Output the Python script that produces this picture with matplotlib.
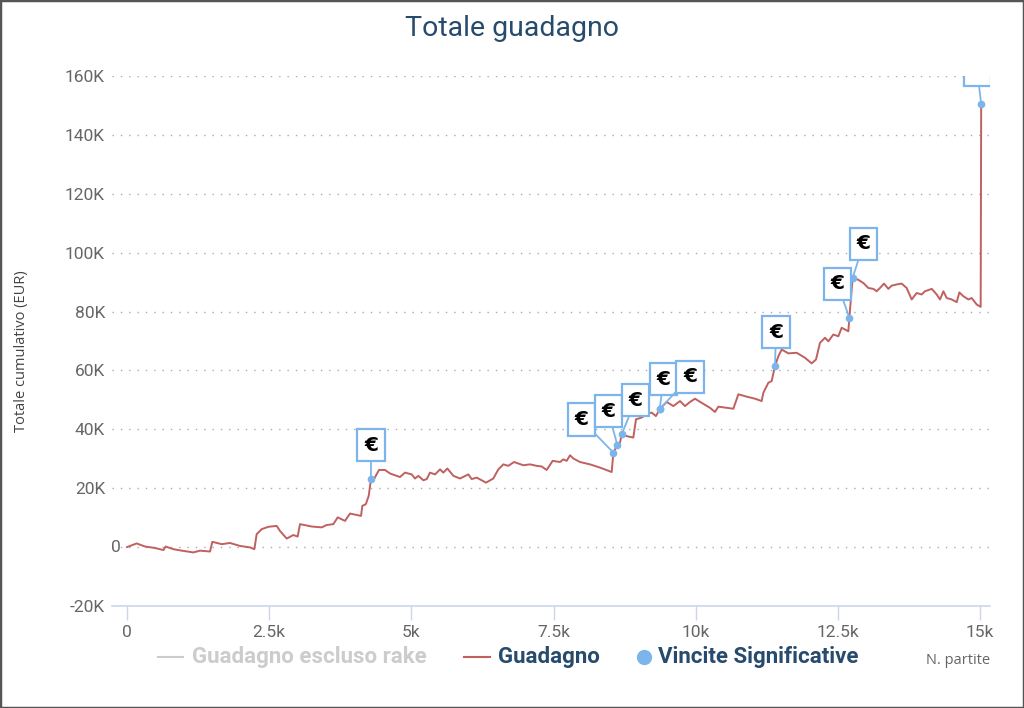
import matplotlib
matplotlib.use('Agg')
import matplotlib.pyplot as plt
from matplotlib.lines import Line2D
from matplotlib.patches import Rectangle
from matplotlib.ticker import FuncFormatter

# ── data (x = games played, y = cumulative profit in K EUR) ──
games = [0, 170, 316, 492, 640, 680, 815, 962, 1166, 1284, 1460, 1500, 1665, 1811,
         1987, 2163, 2239, 2280, 2368, 2485, 2632, 2690, 2808, 2924, 3001, 3042,
         3247, 3423, 3511, 3628, 3705, 3833, 3921, 4115, 4138, 4200, 4250, 4290,
         4349, 4431, 4537, 4625, 4800, 4888, 5006, 5064, 5123, 5211, 5270, 5328,
         5416, 5504, 5562, 5633, 5739, 5856, 6002, 6061, 6149, 6313, 6441, 6529,
         6617, 6705, 6805, 6969, 7086, 7203, 7291, 7379, 7485, 7614, 7672, 7731,
         7790, 7848, 7966, 8142, 8317, 8523, 8552, 8622, 8669, 8698, 8786, 8903,
         8950, 9049, 9137, 9225, 9300, 9372, 9490, 9607, 9724, 9812, 9900, 9988,
         10105, 10252, 10339, 10398, 10545, 10662, 10750, 10897, 11043, 11160,
         11189, 11277, 11336, 11394, 11453, 11512, 11629, 11775, 11922, 12039,
         12115, 12186, 12274, 12333, 12420, 12508, 12567, 12625, 12684, 12702,
         12760, 12858, 12948, 13036, 13123, 13182, 13240, 13311, 13387, 13446,
         13534, 13622, 13710, 13798, 13885, 13974, 14032, 14150, 14238, 14296,
         14355, 14414, 14502, 14590, 14636, 14707, 14795, 14853, 14941, 15011, 15020]
profit_k = [0, 1.25, 0.2, -0.3, -1.0, 0.2, -0.7, -1.2, -1.8, -1.2, -1.5, 1.8, 1.0, 1.4,
            0.4, -0.1, -0.7, 4.4, 6.1, 6.9, 7.2, 5.5, 2.9, 4.1, 3.6, 7.8,
            7.0, 6.7, 7.5, 7.8, 10.1, 8.9, 11.4, 10.6, 14.0, 14.6, 17.4, 23.1,
            23.3, 26.2, 26.2, 25.0, 23.8, 25.3, 24.7, 23.3, 24.2, 22.7, 23.1, 25.3,
            24.7, 26.4, 25.3, 26.7, 24.2, 23.3, 24.7, 23.1, 23.6, 21.9, 23.3, 26.4,
            28.1, 27.6, 28.9, 27.8, 28.1, 27.6, 27.4, 26.2, 29.3, 28.9, 29.8, 29.3,
            31.2, 30.1, 28.9, 28.1, 27.0, 25.5, 32.1, 34.6, 35.5, 38.3, 37.7, 37.2,
            43.4, 44.0, 45.1, 45.7, 44.5, 47.0, 49.3, 47.9, 49.6, 47.9, 49.3, 50.4,
            49.0, 47.3, 45.9, 47.7, 47.3, 47.0, 51.9, 51.1, 50.4, 49.6,
            52.4, 55.8, 56.4, 61.5, 64.8, 67.1, 65.8, 66.0, 64.3, 62.4,
            63.7, 69.4, 71.1, 69.9, 72.2, 71.6, 74.5, 73.9, 73.3, 77.9,
            91.5, 90.8, 89.7, 88.0, 87.7, 86.9, 88.0, 89.5, 87.7, 88.8,
            89.2, 89.5, 88.0, 84.1, 86.3, 85.8, 86.9, 87.7, 85.8, 84.1,
            86.9, 84.6, 84.1, 83.2, 86.5, 85.2, 84.1, 84.6, 82.4, 81.6, 150.5]

# significant wins (flags)
win_games = [4290, 8552, 8622, 8698, 9365, 9372, 11394, 12702, 12760, 15020]
win_k = [23.1, 32.1, 34.6, 38.3, 46.8, 47.0, 61.5, 77.9, 91.5, 150.5]

# flag box offsets from the point, in pixels (layout only)
flag_dx = [0, -32, -9, 14, 4, 30, 1, -12, 11, -4]
flag_dy = [34, 33, 34, 34, 30, 32, 34, 34, 34, 34]

x_ticks = [0, 2500, 5000, 7500, 10000, 12500, 15000]
x_labels = ['0', '2.5k', '5k', '7.5k', '10k', '12.5k', '15k']
y_ticks = list(range(-20000, 160001, 20000))

plt.rcParams['font.family'] = ['Roboto', 'DejaVu Sans']

LINE_RED = '#c0605f'
FLAG_BLUE = '#7cb5ec'
TITLE_BLUE = '#274b6d'
GREY_TXT = '#666666'

fig = plt.figure(figsize=(10.24, 7.08), dpi=100)
ax = fig.add_axes([112 / 1024, 102 / 708, 878 / 1024, 530 / 708])

ax.plot(games, [v * 1000 for v in profit_k], color=LINE_RED, lw=1.4, zorder=3)
ax.plot(win_games, [v * 1000 for v in win_k], 'o', ms=4.5, color=FLAG_BLUE, zorder=4)

for gx, gy, dx, dy in zip(win_games, win_k, flag_dx, flag_dy):
    ax.annotate('€', xy=(gx, gy * 1000), xytext=(dx, dy), textcoords='offset pixels',
                ha='center', va='center', fontsize=14.5, fontweight='bold', color='black',
                family='DejaVu Sans', clip_on=True, zorder=5,
                bbox=dict(boxstyle='square,pad=0.33', fc='white', ec=FLAG_BLUE, lw=1.6),
                arrowprops=dict(arrowstyle='-', color=FLAG_BLUE, lw=1.3,
                                shrinkA=0, shrinkB=2))

ax.set_xlim(-264, 15175)
ax.set_ylim(-20000, 160000)

ax.set_xticks(x_ticks)
ax.set_xticklabels(x_labels)
ax.set_yticks(y_ticks)
# "0" is drawn separately below, it sits further right in the original
ax.yaxis.set_major_formatter(FuncFormatter(lambda v, p: '' if v == 0 else f'{int(v / 1000)}K'))

for s in ['top', 'right', 'left']:
    ax.spines[s].set_visible(False)
ax.spines['bottom'].set_color('#ccd6eb')
ax.spines['bottom'].set_linewidth(1.2)

ax.tick_params(axis='x', length=10, width=1, color='#ccd6eb', labelsize=12.5,
               labelcolor=GREY_TXT, pad=4)
ax.tick_params(axis='y', length=0, labelsize=12.5, labelcolor=GREY_TXT, pad=5)

ax.text(9 / 878, 0, '0', transform=ax.get_yaxis_transform(), ha='right', va='center',
        fontsize=12.5, color=GREY_TXT, clip_on=False)

ax.yaxis.grid(True, linestyle=(0, (1, 5)), color='#aaaaaa', lw=1)
ax.set_axisbelow(True)

fig.text(22 / 1024, 1 - 351 / 708, 'Totale cumulativo (EUR)', rotation=90,
         ha='center', va='center', fontsize=10.5, color='#444444',
         family=['Open Sans', 'DejaVu Sans'])

fig.text(0.5, 1 - 28 / 708, 'Totale guadagno', ha='center', va='center',
         fontsize=20.5, color=TITLE_BLUE)

# ── legend, drawn by hand at the bottom ──
ly = 1 - 657 / 708
fig.add_artist(Line2D([158 / 1024, 183 / 1024], [ly, ly], color='#cccccc', lw=1.5))
fig.text(192 / 1024, ly, 'Guadagno escluso rake', ha='left', va='center',
         fontsize=16, fontweight='bold', color='#cccccc')
fig.add_artist(Line2D([464 / 1024, 490 / 1024], [ly, ly], color=LINE_RED, lw=1.5))
fig.text(498 / 1024, ly, 'Guadagno', ha='left', va='center',
         fontsize=16, fontweight='bold', color=TITLE_BLUE)
fig.add_artist(Line2D([644 / 1024], [ly], marker='o', ms=10, color=FLAG_BLUE, lw=0))
fig.text(658 / 1024, ly, 'Vincite Significative', ha='left', va='center',
         fontsize=16, fontweight='bold', color=TITLE_BLUE)
fig.text(990 / 1024, 1 - 661 / 708, 'N. partite', ha='right', va='center',
         fontsize=10.5, color=GREY_TXT, family=['Open Sans', 'DejaVu Sans'])

fig.patches.append(Rectangle((0, 0), 1, 1, transform=fig.transFigure, fill=False,
                             ec='#555555', lw=2.5))

fig.savefig('out.png', dpi=100)
